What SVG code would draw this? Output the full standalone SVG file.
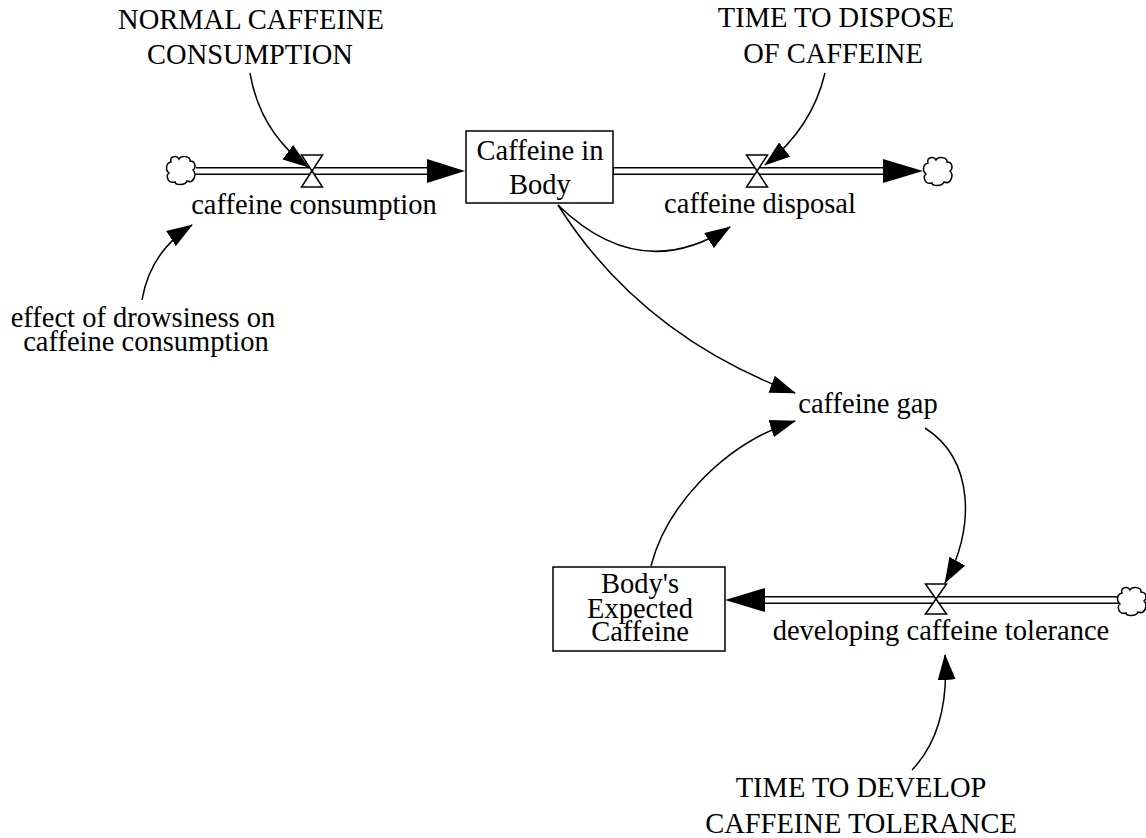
<svg xmlns="http://www.w3.org/2000/svg" xmlns:xlink="http://www.w3.org/1999/xlink" width="1146" height="838" viewBox="0 0 1146 838">
<style>
text{font-size:28.5px;fill:#000;text-anchor:middle}
.box{fill:#fff;stroke:#000;stroke-width:1.5}
.pipeo{stroke:#000;stroke-width:8;fill:none}
.pipei{stroke:#fff;stroke-width:5;fill:none}
.valve{fill:#fff;stroke:#000;stroke-width:1.5}
.head{fill:#000}
.link{fill:none;stroke:#000;stroke-width:1.5;marker-end:url(#arr)}
.cloud{fill:#fff;stroke:#000;stroke-width:1.5}
</style>
<defs>
<marker id="arr" markerUnits="userSpaceOnUse" viewBox="0 0 26 18" refX="25" refY="9" markerWidth="26" markerHeight="18" orient="auto">
<path d="M0,0 L26,9 L0,18 Z" fill="#000"/>
</marker>
<path id="cl" d="M5,7 C3,1 11,0 13,4 C15,0 25,1 24,6 C30,6 30,13 27,15 C31,19 28,29 21,26 C19,31 9,30 9,27 C1,29 0,20 3,18 C-1,15 0,8 5,7 Z"/>
</defs>

<g id="connectors">
<path class="link" d="M250 73 Q260 132 308 167"/>
<path class="link" d="M825 73 Q812 128 765 165"/>
<path class="link" d="M142 300 Q150 252 192 225"/>
<path class="link" d="M558 205 Q640 285 730 227"/>
<path class="link" d="M558 205 Q640 335 795 393"/>
<path class="link" d="M651 566 C665 510 720 445 795 421"/>
<path class="link" d="M925 428 C975 460 975 530 945 583"/>
<path class="link" d="M912 770 Q950 730 945 655"/>
</g>

<g font-family="Liberation Serif, Times New Roman, Tinos, Noto Serif, DejaVu Serif, FreeSerif, serif">
<g id="flow-caffeine-consumption">
<line class="pipeo" x1="196" y1="171" x2="430" y2="171"/>
<line class="pipei" x1="194" y1="171" x2="430" y2="171"/>
<polygon class="head" points="465,171 427,159 427,183"/>
<path class="valve" d="M301.5 155 L322.5 155 L301.5 187 L322.5 187 Z"/>
<text x="314" y="214">caffeine consumption</text>
</g>

<g id="flow-caffeine-disposal">
<line class="pipeo" x1="613" y1="171" x2="886" y2="171"/>
<line class="pipei" x1="614" y1="171" x2="886" y2="171"/>
<polygon class="head" points="923,171 883,159 883,183"/>
<path class="valve" d="M746.5 155 L767.5 155 L746.5 187 L767.5 187 Z"/>
<text x="760" y="213">caffeine disposal</text>
</g>

<g id="flow-developing-caffeine-tolerance">
<line class="pipeo" x1="1119" y1="600" x2="762" y2="600"/>
<line class="pipei" x1="1121" y1="600" x2="762" y2="600"/>
<polygon class="head" points="725,600 765,588 765,612"/>
<path class="valve" d="M925.5 584 L946.5 584 L925.5 614 L946.5 614 Z"/>
<text x="941" y="640">developing caffeine tolerance</text>
</g>

<g id="cloud-source-1"><use href="#cl" class="cloud" x="166" y="155"/></g>
<g id="cloud-sink-2"><use href="#cl" class="cloud" x="923" y="156"/></g>
<g id="cloud-source-3"><use href="#cl" class="cloud" x="1117" y="586"/></g>

<g id="stock-caffeine-in-body">
<rect class="box" x="466" y="131" width="147" height="72"/>
<text x="540" y="160">Caffeine in</text>
<text x="540" y="194">Body</text>
</g>

<g id="stock-bodys-expected-caffeine">
<rect class="box" x="553" y="567" width="172" height="84"/>
<text x="640" y="593">Body's</text>
<text x="640" y="618">Expected</text>
<text x="640" y="641">Caffeine</text>
</g>

<g id="normal-caffeine-consumption">
<text x="251" y="29">NORMAL CAFFEINE</text>
<text x="250" y="64">CONSUMPTION</text>
</g>

<g id="time-to-dispose">
<text x="836" y="27">TIME TO DISPOSE</text>
<text x="833" y="63">OF CAFFEINE</text>
</g>

<g id="effect-of-drowsiness">
<text x="143" y="327">effect of drowsiness on</text>
<text x="146" y="351">caffeine consumption</text>
</g>

<g id="caffeine-gap">
<text x="868" y="413">caffeine gap</text>
</g>

<g id="time-to-develop">
<text x="861" y="797">TIME TO DEVELOP</text>
<text x="861" y="833">CAFFEINE TOLERANCE</text>
</g>
</g>
</svg>
